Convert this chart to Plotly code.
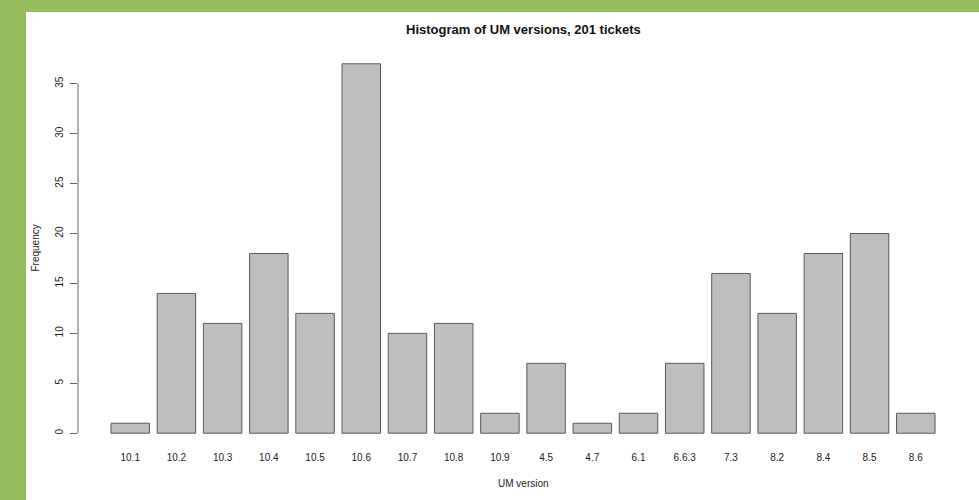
import plotly.graph_objects as go

# UM version counts
versions = ["10.1", "10.2", "10.3", "10.4", "10.5", "10.6", "10.7", "10.8", "10.9",
            "4.5", "4.7", "6.1", "6.6.3", "7.3", "8.2", "8.4", "8.5", "8.6"]
counts = [1, 14, 11, 18, 12, 37, 10, 11, 2, 7, 1, 2, 7, 16, 12, 18, 20, 2]
y_ticks = [0, 5, 10, 15, 20, 25, 30, 35]

FONT = "Liberation Sans, Arial, Helvetica, sans-serif"
W, H = 979, 500
L, R, T, B = 78, 11, 49, 52
GREEN = "#94bc5c"

fig = go.Figure(go.Bar(
    x=versions, y=counts,
    marker=dict(color="#bebebe", line=dict(color="#5a5a5a", width=1)),
    width=0.833,
    hoverinfo="x+y",
))

ymax = max(counts)
ypad = ymax * 0.04
n = len(versions)

pw = W - L - R
ph = H - T - B

fig.update_layout(
    width=W, height=H,
    margin=dict(l=L, r=R, t=T, b=B),
    paper_bgcolor="white", plot_bgcolor="white",
    showlegend=False,
    font=dict(family=FONT, color="#222222"),
    xaxis=dict(
        type="category", range=[-1.13, n - 1 + 1.13],
        showgrid=False, zeroline=False, showline=False, ticks="",
        tickfont=dict(size=10, color="#222222"),
        ticklabelstandoff=2,
    ),
    yaxis=dict(
        range=[-ypad, ymax + ypad],
        tickvals=y_ticks, ticktext=[str(v) for v in y_ticks],
        ticks="outside", ticklen=7, tickcolor="#666666", tickwidth=1,
        tickangle=-90, tickfont=dict(size=10, color="#222222"),
        showgrid=False, zeroline=False, showline=False,
        ticklabelstandoff=3,
    ),
    shapes=[
        # green frame strips around the page
        dict(type="rect", xref="paper", yref="paper",
             x0=-L / pw, x1=(26 - L) / pw, y0=-B / ph, y1=(H - B) / ph,
             fillcolor=GREEN, line=dict(width=0), layer="below"),
        dict(type="rect", xref="paper", yref="paper",
             x0=-L / pw, x1=(W - L) / pw, y0=(H - B - 12) / ph, y1=(H - B) / ph,
             fillcolor=GREEN, line=dict(width=0), layer="below"),
        # y axis line spanning the tick range only
        dict(type="line", xref="paper", yref="y", x0=0, x1=0,
             y0=y_ticks[0], y1=y_ticks[-1], line=dict(color="#666666", width=1)),
    ],
    annotations=[
        dict(text="<b>Histogram of UM versions, 201 tickets</b>", xref="paper", yref="paper",
             x=0.5, y=(H - B - 30) / ph, xanchor="center", yanchor="middle",
             showarrow=False, font=dict(size=13, color="#111111")),
        dict(text="UM version", xref="paper", yref="paper",
             x=0.5, y=-(483 - (H - B)) / ph, xanchor="center", yanchor="middle",
             showarrow=False, font=dict(size=10, color="#222222")),
        dict(text="Frequency", xref="paper", yref="paper",
             x=-(L - 35) / pw, y=0.5, xanchor="center", yanchor="middle",
             textangle=-90, showarrow=False, font=dict(size=10, color="#222222")),
    ],
)

fig.write_html("out.html")
